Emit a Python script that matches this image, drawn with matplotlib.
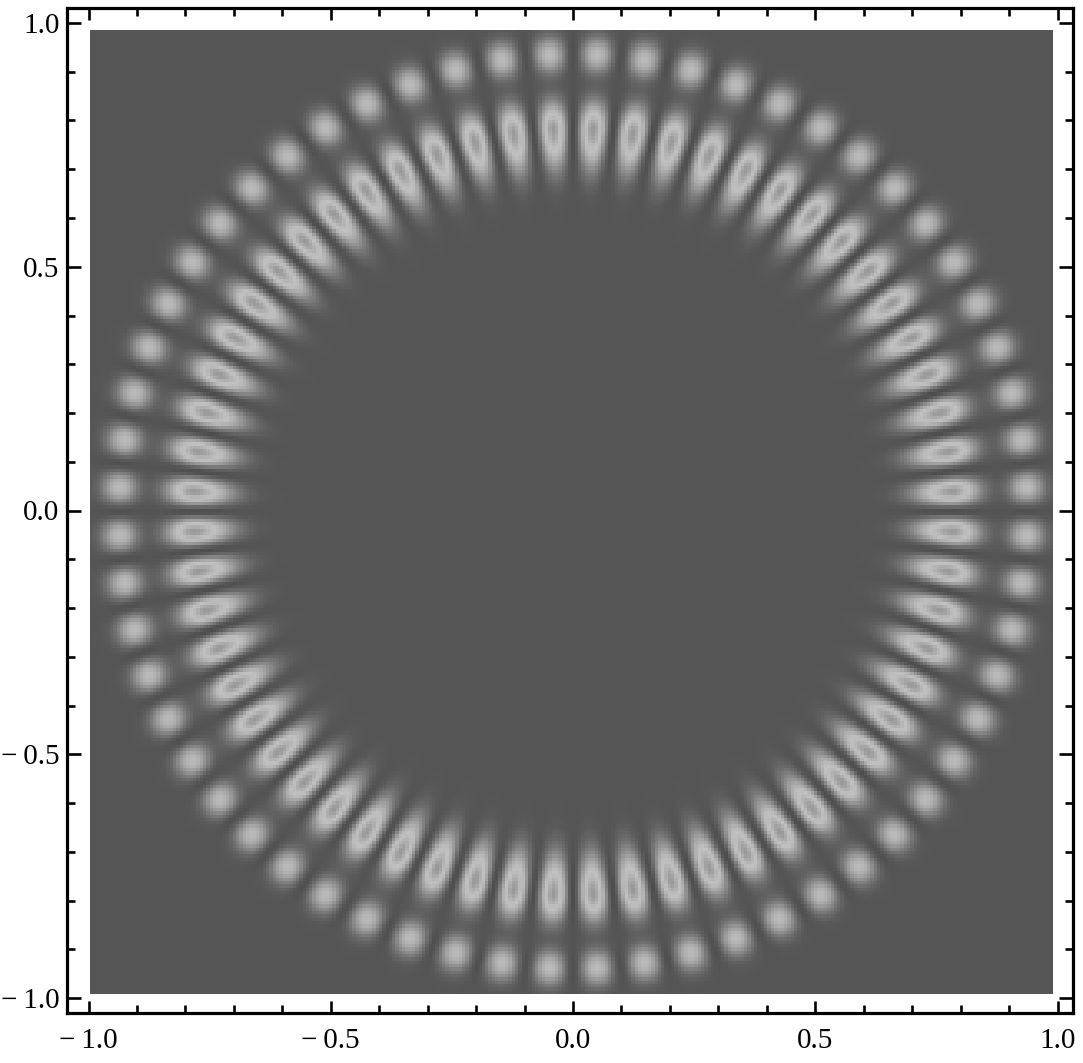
import numpy as np
import matplotlib
matplotlib.use("Agg")
import matplotlib.pyplot as plt
from matplotlib.colors import ListedColormap

# Values
lobe_angles_deg = [3, 9, 15, 21, 27, 33, 39, 45, 51, 57, 63, 69, 75, 81, 87,
                   93, 99, 105, 111, 117, 123, 129, 135, 141, 147, 153, 159, 165, 171, 177,
                   183, 189, 195, 201, 207, 213, 219, 225, 231, 237, 243, 249, 255, 261, 267,
                   273, 279, 285, 291, 297, 303, 309, 315, 321, 327, 333, 339, 345, 351, 357]
ring_radius = [0.937, 0.785]
ring_peak = [0.57, 1.0]
ring_sigma_in = [0.023, 0.05]
ring_sigma_out = [0.023, 0.034]
major_ticks = [-1.0, -0.5, 0.0, 0.5, 1.0]
major_labels = ["\u2212\u20091.0", "\u2212\u20090.5", "0.0", "0.5", "1.0"]
minor_ticks = [-0.9, -0.8, -0.7, -0.6, -0.4, -0.3, -0.2, -0.1,
               0.1, 0.2, 0.3, 0.4, 0.6, 0.7, 0.8, 0.9]
image_extent = [-0.997, 0.990, -0.992, 0.984]
grey_background = 85
grey_crest = 192
fold_level = 0.66
core_steepness = 0.5
tone_power = 1.5

W, H = 1083, 1063
fig = plt.figure(figsize=(W / 100, H / 100), dpi=100, facecolor="white")
ax = fig.add_axes([67 / W, (H - 1013) / H, (1073 - 67) / W, (1013 - 8) / H])

# field on the coarse grid of the density plot
N = 290
xs = image_extent[0] + (np.arange(N) + 0.5) * (image_extent[1] - image_extent[0]) / N
ys = image_extent[2] + (np.arange(N) + 0.5) * (image_extent[3] - image_extent[2]) / N
X, Y = np.meshgrid(xs, ys)
Y = Y + 0.003
R = np.hypot(X, Y)
TH = np.mod(np.degrees(np.arctan2(Y, X)), 360)

radial = np.zeros_like(R)
for r0, a, si, so in zip(ring_radius, ring_peak, ring_sigma_in, ring_sigma_out):
    s = np.where(R < r0, si, so)
    radial += a * np.exp(-0.5 * ((R - r0) / s) ** 2)
    radial += 0.008 * np.exp(-0.5 * ((R - r0) / (2.4 * s)) ** 2)

lobes = np.array(lobe_angles_deg, dtype=float)
d = np.abs(TH[..., None] - lobes)
d = np.minimum(d, 360 - d).min(axis=-1)
angular = np.cos(np.radians(d) * 30) ** 2 - 0.03
I = radial * angular

span = grey_crest - grey_background
x = 1 - I / fold_level
grey = np.where(I <= fold_level,
                grey_crest - span * np.sign(x) * np.abs(x) ** tone_power,
                grey_crest - span * core_steepness * (2 * x ** 2 + 0.6 * np.abs(x)))

g = np.linspace(0, 1, 256)
cmap = ListedColormap(np.c_[g, g, g])
ax.imshow(grey, origin="lower", extent=image_extent, cmap=cmap, vmin=0, vmax=255,
          interpolation="nearest", aspect="auto", zorder=1)

ax.set_xlim(-1 - (88.5 - 67) / 484.5, 1 + (1073 - 1057.5) / 484.5)
ax.set_ylim(-1 - (1013 - 998) / 487.5, 1 + (23 - 8) / 487.5)

font = "Liberation Serif"
ax.set_xticks(major_ticks)
ax.set_xticklabels(major_labels, family=font, fontsize=21)
ax.set_yticks(major_ticks)
ax.set_yticklabels(major_labels, family=font, fontsize=21)
ax.set_xticks(minor_ticks, minor=True)
ax.set_yticks(minor_ticks, minor=True)
ax.tick_params(axis="both", which="both", direction="in", top=True, right=True,
               width=1.9, color="black", zorder=5)
ax.tick_params(axis="x", which="major", length=8.5, pad=11)
ax.tick_params(axis="y", which="major", length=10, pad=5.5)
ax.tick_params(axis="both", which="minor", length=6)
for s in ax.spines.values():
    s.set_linewidth(2.3)
    s.set_color("black")

fig.savefig("out.png", dpi=100, facecolor="white")
